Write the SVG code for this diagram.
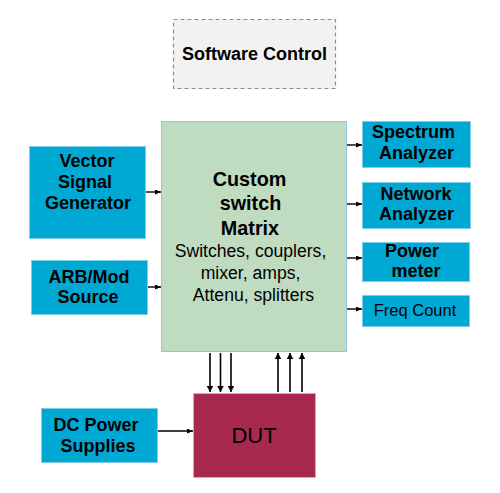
<svg xmlns="http://www.w3.org/2000/svg" width="500" height="493" viewBox="0 0 500 493">
<style>
.box{fill:#00a9d4;stroke:#7fcce6;stroke-width:1}
.b{font-family:"Liberation Sans",Arial,sans-serif;font-weight:bold;font-size:18px;fill:#000;text-anchor:middle}
.m{font-family:"Liberation Sans",Arial,sans-serif;font-weight:bold;font-size:19.8px;fill:#000;text-anchor:middle}
.r{font-family:"Liberation Sans",Arial,sans-serif;font-size:17.6px;fill:#000;text-anchor:middle}
.f{font-family:"Liberation Sans",Arial,sans-serif;font-size:16.5px;fill:#000;text-anchor:middle}
.d{font-family:"Liberation Sans",Arial,sans-serif;font-size:22px;fill:#000;text-anchor:middle}
.c{stroke:#000;stroke-width:1.4;fill:none;marker-end:url(#ah)}
.v{stroke:#000;stroke-width:1.6;fill:none;marker-end:url(#av)}
</style>
<defs>
<marker id="ah" viewBox="0 0 10 10" refX="10" refY="5" markerWidth="6" markerHeight="5" markerUnits="userSpaceOnUse" orient="auto" preserveAspectRatio="none">
<path d="M0,0 L10,5 L0,10 Z" fill="#000"/>
</marker>
<marker id="av" viewBox="0 0 10 10" refX="10" refY="5" markerWidth="6" markerHeight="6.5" markerUnits="userSpaceOnUse" orient="auto" preserveAspectRatio="none">
<path d="M0,0 L10,5 L0,10 Z" fill="#000"/>
</marker>
</defs>
<rect width="500" height="493" fill="#fff"/>
<g id="software-control">
<rect x="173.5" y="19.5" width="162" height="69" fill="#f2f2f2" stroke="#8c8c8c" stroke-width="1.2" stroke-dasharray="4,3"/>
<text class="b" x="254.5" y="60">Software Control</text>
</g>
<g id="matrix">
<rect x="161.5" y="121.5" width="185" height="230" fill="#c0dcc0" stroke="#8ec6e0" stroke-width="1"/>
<text class="m" x="249.5" y="186">Custom</text>
<text class="m" x="250.5" y="210">switch</text>
<text class="m" x="250" y="235">Matrix</text>
<text class="r" x="250.5" y="257">Switches, couplers,</text>
<text class="r" x="250.5" y="279">mixer, amps,</text>
<text class="r" x="253.5" y="301">Attenu, splitters</text>
</g>
<g id="vsg">
<rect class="box" x="29.5" y="146.5" width="116" height="92"/>
<text class="b" x="87" y="167">Vector</text>
<text class="b" x="85" y="188">Signal</text>
<text class="b" x="88" y="209">Generator</text>
</g>
<g id="arb">
<rect class="box" x="31.5" y="260.5" width="116" height="54"/>
<text class="b" x="89" y="283">ARB/Mod</text>
<text class="b" x="88" y="303">Source</text>
</g>
<g id="dc">
<rect class="box" x="41.5" y="408.5" width="116" height="54"/>
<text class="b" x="96" y="431">DC Power</text>
<text class="b" x="98" y="452">Supplies</text>
</g>
<g id="spectrum">
<rect class="box" x="362.5" y="121.5" width="108" height="46"/>
<text class="b" x="413.5" y="138">Spectrum</text>
<text class="b" x="416.5" y="159">Analyzer</text>
</g>
<g id="network">
<rect class="box" x="362.5" y="182.5" width="108" height="46"/>
<text class="b" x="416" y="200">Network</text>
<text class="b" x="416.5" y="220">Analyzer</text>
</g>
<g id="power">
<rect class="box" x="362.5" y="242.5" width="107" height="39"/>
<text class="b" x="412" y="257">Power</text>
<text class="b" x="416" y="277">meter</text>
</g>
<g id="freq">
<rect class="box" x="362.5" y="295.5" width="107" height="31"/>
<text class="f" x="415" y="316">Freq Count</text>
</g>
<g id="dut">
<rect x="193.5" y="393.5" width="122" height="84" fill="#a82850" stroke="#7fcce6" stroke-width="1"/>
<text class="d" x="254" y="443">DUT</text>
</g>
<g id="connectors">
<line class="c" x1="146" y1="192" x2="161" y2="192"/>
<line class="c" x1="148" y1="287" x2="161" y2="287"/>
<line class="c" x1="158" y1="431" x2="193" y2="431"/>
<line class="c" x1="347" y1="145" x2="362" y2="145"/>
<line class="c" x1="347" y1="204" x2="362" y2="204"/>
<line class="c" x1="347" y1="258" x2="362" y2="258"/>
<line class="c" x1="347" y1="309" x2="362" y2="309"/>
<line class="v" x1="210" y1="353" x2="210" y2="392"/>
<line class="v" x1="220.5" y1="353" x2="220.5" y2="392"/>
<line class="v" x1="231" y1="353" x2="231" y2="392"/>
<line class="v" x1="278" y1="392" x2="278" y2="353"/>
<line class="v" x1="290" y1="392" x2="290" y2="353"/>
<line class="v" x1="302" y1="392" x2="302" y2="353"/>
</g>
</svg>
